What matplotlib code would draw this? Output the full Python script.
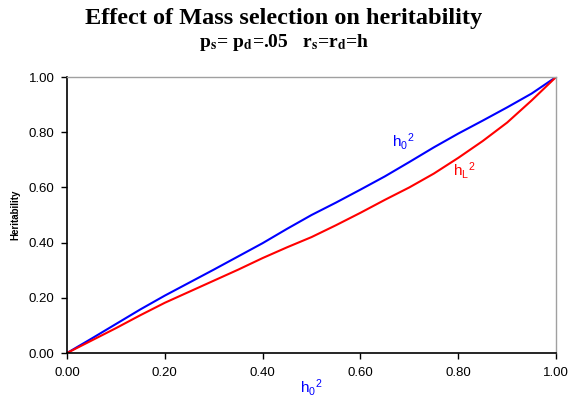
import matplotlib
matplotlib.use("Agg")
import matplotlib.pyplot as plt
from matplotlib.ticker import FormatStrFormatter, MultipleLocator

# Data
h0_sq = [0.00, 0.05, 0.10, 0.15, 0.20, 0.25, 0.30, 0.35, 0.40, 0.45, 0.50,
         0.55, 0.60, 0.65, 0.70, 0.75, 0.80, 0.85, 0.90, 0.95, 1.00]
h0_line = [0.000, 0.052, 0.105, 0.158, 0.208, 0.255, 0.302, 0.350, 0.398, 0.450, 0.500,
           0.545, 0.592, 0.640, 0.692, 0.745, 0.795, 0.842, 0.890, 0.940, 1.000]
hL_line = [0.000, 0.045, 0.090, 0.137, 0.182, 0.222, 0.262, 0.302, 0.344, 0.383, 0.420,
           0.463, 0.508, 0.555, 0.600, 0.650, 0.707, 0.768, 0.835, 0.915, 1.000]

plt.rcParams['font.family'] = ['Liberation Sans', 'DejaVu Sans']
plt.rcParams['mathtext.fontset'] = 'custom'
plt.rcParams['mathtext.rm'] = 'Liberation Sans'
plt.rcParams['mathtext.it'] = 'Liberation Sans'

fig = plt.figure(figsize=(5.68, 4.0), dpi=100)
ax = fig.add_axes([0.118, 0.1175, 0.861, 0.69])

ax.plot(h0_sq, h0_line, color='#0000ff', lw=1.5)
ax.plot(h0_sq, hL_line, color='#ff0000', lw=1.5)

ax.set_xlim(0, 1)
ax.set_ylim(0, 1)
ax.xaxis.set_major_locator(MultipleLocator(0.2))
ax.yaxis.set_major_locator(MultipleLocator(0.2))
ax.xaxis.set_major_formatter(FormatStrFormatter('%.2f'))
ax.yaxis.set_major_formatter(FormatStrFormatter('%.2f'))
ax.tick_params(direction='out', length=4, width=1, labelsize=9.5)
ax.tick_params(axis='x', pad=6)
ax.tick_params(axis='y', pad=5)
for s in ['left', 'bottom']:
    ax.spines[s].set_color('black')
    ax.spines[s].set_linewidth(1.2)
for s in ['top', 'right']:
    ax.spines[s].set_color('#a0a0a0')
    ax.spines[s].set_linewidth(1.0)

ax.set_ylabel('Heritability', fontsize=7, fontweight='bold', labelpad=6)
ax.set_xlabel(r'h$_0$$^2$', fontsize=11, color='#0000ff', labelpad=-1)

ax.text(0.665, 0.765, r'h$_0$$^2$', color='#0000ff', fontsize=11,
        transform=ax.transAxes, ha='left', va='center')
ax.text(0.790, 0.660, r'h$_\mathrm{L}$$^2$', color='#ff0000', fontsize=11,
        transform=ax.transAxes, ha='left', va='center')

fig.text(0.5, 0.953, 'Effect of Mass selection on heritability',
         family='Liberation Serif', fontweight='bold', fontsize=17.5,
         ha='center', va='center')
fig.text(0.5, 0.893, r'p$_\mathbf{s}$= p$_\mathbf{d}$=.05   r$_\mathbf{s}$=r$_\mathbf{d}$=h',
         family='Liberation Serif', fontweight='bold', fontsize=14,
         math_fontfamily='stix', ha='center', va='center')

fig.savefig('out.png', dpi=100)
